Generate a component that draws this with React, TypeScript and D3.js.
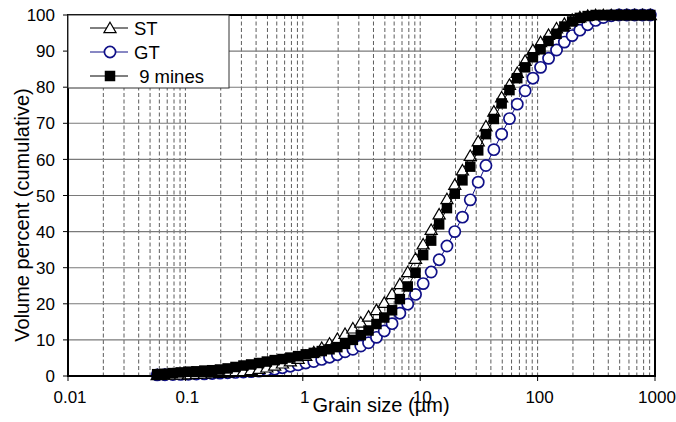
import React from "react";
import * as d3 from "d3";

// Grain size classes (µm)
const sizes = [
  0.0575, 0.067, 0.0782, 0.0911, 0.106, 0.124, 0.145, 0.169, 0.197, 0.229,
  0.267, 0.312, 0.363, 0.424, 0.494, 0.576, 0.671, 0.783, 0.912, 1.06,
  1.24, 1.45, 1.69, 1.97, 2.29, 2.67, 3.12, 3.63, 4.24, 4.94,
  5.76, 6.71, 7.83, 9.12, 10.6, 12.4, 14.5, 16.9, 19.7, 22.9,
  26.7, 31.2, 36.3, 42.4, 49.4, 57.6, 67.1, 78.3, 91.2, 106,
  124, 145, 169, 197, 229, 267, 312, 363, 424, 494,
  576, 671, 783, 912,
];

const stValues = [
  0.3, 0.35, 0.4, 0.45, 0.5, 0.6, 0.7, 0.8, 0.9, 1.0,
  1.2, 1.4, 1.7, 2.0, 2.4, 2.9, 3.5, 4.1, 4.8, 5.6,
  6.6, 7.8, 9.0, 10.3, 11.7, 13.2, 14.8, 16.5, 18.3, 20.3,
  22.7, 25.5, 28.8, 32.5, 36.5, 40.5, 44.8, 49.0, 53.0, 57.0,
  61.0, 65.0, 69.2, 73.3, 77.2, 80.7, 84.0, 87.3, 90.3, 92.5,
  94.5, 96.3, 97.6, 98.7, 99.4, 99.8, 100, 100, 100, 100,
  100, 100, 100, 100,
];

const gtValues = [
  0.3, 0.35, 0.4, 0.45, 0.5, 0.55, 0.6, 0.7, 0.8, 0.9,
  1.0, 1.1, 1.2, 1.35, 1.6, 1.9, 2.3, 2.7, 3.1, 3.6,
  4.0, 4.6, 5.2, 5.9, 6.7, 7.4, 8.3, 9.2, 10.7, 12.5,
  14.5, 17.4, 19.9, 22.6, 25.6, 28.8, 32.2, 36.0, 40.0, 44.0,
  48.8, 53.7, 58.3, 62.7, 67.0, 71.3, 75.3, 79.0, 82.5, 85.5,
  88.0, 90.3, 92.5, 94.3, 95.8, 97.3, 98.5, 99.3, 99.8, 100,
  100, 100, 100, 100,
];

const minesValues = [
  0.5, 0.6, 0.8, 1.0, 1.2, 1.3, 1.5, 1.6, 1.8, 2.1,
  2.5, 2.9, 3.2, 3.6, 4.0, 4.4, 4.7, 5.1, 5.5, 6.0,
  6.4, 6.9, 7.4, 8.0, 8.9, 10.0, 11.3, 12.6, 14.4, 16.2,
  18.2, 21.3, 24.8, 28.6, 33.5, 37.5, 42.0, 46.5, 50.5, 54.2,
  58.0, 62.5, 67.0, 71.2, 75.5, 79.2, 82.5, 85.5, 88.3, 90.5,
  92.8, 94.8, 96.8, 98.2, 99.2, 99.7, 100, 100, 100, 100,
  100, 100, 100, 100,
];

const xTicks = [0.01, 0.1, 1, 10, 100, 1000];
const xTickLabels = ["0.01", "0.1", "1", "10", "100", "1000"];
const yTicks = [0, 10, 20, 30, 40, 50, 60, 70, 80, 90, 100];

const seriesNames = ["ST", "GT", " 9 mines"];

const W = 676;
const H = 422;
const left = 68;
const right = 655;
const top = 15;
const bottom = 376;
const NAVY = "#101088";
const FONT = "Liberation Sans, Arial, sans-serif";

function Marker({ kind, x, y }: { kind: string; x: number; y: number }) {
  if (kind === "tri") {
    const s = 5.8;
    return (
      <path
        d={`M${x},${y - s}L${x + s * 1.05},${y + s * 0.8}L${x - s * 1.05},${y + s * 0.8}Z`}
        fill="#fff"
        stroke="#000"
        strokeWidth={1.2}
      />
    );
  }
  if (kind === "circ") {
    return <circle cx={x} cy={y} r={5.6} fill="#fff" stroke={NAVY} strokeWidth={1.7} />;
  }
  const s = 10.5;
  return <rect x={x - s / 2} y={y - s / 2} width={s} height={s} fill="#000" />;
}

export default function App() {
  const xs = d3.scaleLog().domain([0.01, 1000]).range([left, right]);
  const ys = d3.scaleLinear().domain([0, 100]).range([bottom, top]);

  const minor: number[] = [];
  for (let e = -2; e < 3; e++) {
    for (let m = 1; m < 10; m++) {
      const v = m * Math.pow(10, e);
      if (v > 0.01) minor.push(v);
    }
  }

  const line = (vals: number[]) =>
    d3
      .line<number>()
      .x((_, i) => xs(sizes[i]))
      .y((d) => ys(d))(vals) as string;

  const series = [
    { name: seriesNames[1], vals: gtValues, kind: "circ", color: NAVY },
    { name: seriesNames[0], vals: stValues, kind: "tri", color: "#000" },
    { name: seriesNames[2], vals: minesValues, kind: "sq", color: "#000" },
  ];

  const legendItems = [
    { name: seriesNames[0], kind: "tri", color: "#000", y: 28, tx: 134 },
    { name: seriesNames[1], kind: "circ", color: NAVY, y: 52, tx: 134 },
    { name: seriesNames[2], kind: "sq", color: "#000", y: 76, tx: 134 },
  ];

  return (
    <svg width={W} height={H} style={{ position: "absolute", left: 0, top: 0 }} fontFamily={FONT}>
      <rect x={0} y={0} width={W} height={H} fill="#fff" />
      {/* vertical dashed grid */}
      {minor.map((v) => (
        <line
          key={"v" + v}
          x1={xs(v)}
          x2={xs(v)}
          y1={top}
          y2={bottom}
          stroke="#4a4a4a"
          strokeWidth={0.9}
          strokeDasharray="4,2.5"
        />
      ))}
      {/* horizontal grid */}
      {yTicks.map((t) => (
        <line key={"h" + t} x1={left} x2={right} y1={ys(t)} y2={ys(t)} stroke="#7a7a7a" strokeWidth={1.1} />
      ))}
      {/* series */}
      {series.map((s) => (
        <g key={s.name}>
          <path d={line(s.vals)} fill="none" stroke={s.color} strokeWidth={1} />
          {s.vals.map((v, i) => (
            <Marker key={i} kind={s.kind} x={xs(sizes[i])} y={ys(v)} />
          ))}
        </g>
      ))}
      {/* frame */}
      <rect x={left} y={top} width={right - left} height={bottom - top} fill="none" stroke="#000" strokeWidth={2} />
      {/* y ticks */}
      {yTicks.map((t) => (
        <g key={"yt" + t}>
          <line x1={left - 5} x2={left} y1={ys(t)} y2={ys(t)} stroke="#000" strokeWidth={1} />
          <text x={55} y={ys(t)} dy="0.36em" textAnchor="end" fontSize={17}>
            {t}
          </text>
        </g>
      ))}
      {/* x ticks */}
      {xTicks.map((t, i) => (
        <g key={"xt" + t}>
          <line x1={xs(t)} x2={xs(t)} y1={bottom} y2={bottom + 5} stroke="#000" strokeWidth={1} />
          <text x={xs(t) + 2} y={403} textAnchor="middle" fontSize={17}>
            {xTickLabels[i]}
          </text>
        </g>
      ))}
      {/* legend */}
      <rect x={left} y={top} width={161} height={73} fill="#fff" stroke="#333" strokeWidth={1} />
      {legendItems.map((it) => (
        <g key={"lg" + it.name}>
          <line x1={90} x2={128} y1={it.y} y2={it.y} stroke={it.color} strokeWidth={1} />
          <Marker kind={it.kind} x={110} y={it.y} />
          <text x={it.tx} y={it.y} dy="0.36em" fontSize={18.5} style={{ whiteSpace: "pre" }}>
            {it.name}
          </text>
        </g>
      ))}
      {/* axis titles */}
      <text x={381} y={412} textAnchor="middle" fontSize={20}>
        Grain size (µm)
      </text>
      <text transform="translate(29,215) rotate(-90)" textAnchor="middle" fontSize={20}>
        Volume percent (cumulative)
      </text>
    </svg>
  );
}
